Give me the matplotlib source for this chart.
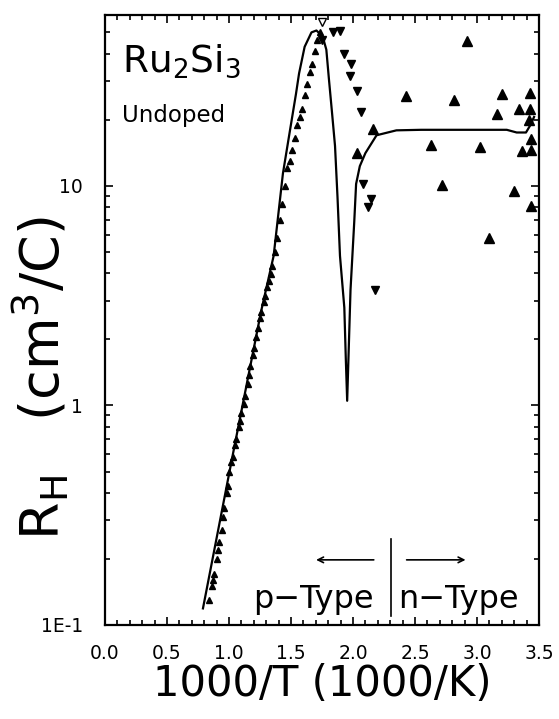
import matplotlib
matplotlib.use('Agg')
import matplotlib.pyplot as plt
from matplotlib.ticker import FixedLocator, LogLocator, NullFormatter, MultipleLocator

# fitted curve
fit_x = [0.79, 1.03, 1.26, 1.36, 1.435, 1.48, 1.54, 1.565, 1.61, 1.665, 1.705, 1.755,
         1.785, 1.805, 1.83, 1.855, 1.875, 1.895, 1.93, 1.942, 1.953,
         1.98, 2.01, 2.025, 2.055, 2.10, 2.19, 2.35, 2.55, 3.24, 3.32, 3.395, 3.435, 3.46]
fit_y = [0.119, 0.594, 2.70, 4.8, 11.4, 16.3, 26.2, 32.5, 43, 50, 51, 48,
         41.7, 31, 21.8, 15.2, 8.9, 4.8, 2.79, 1.63, 1.05,
         3.36, 6.85, 10.2, 12.3, 14.1, 17.0, 17.9, 18.0, 18.0, 17.5, 17.5, 19.1, 20.6]

# dense p-type data
p_x = [0.84, 0.86, 0.87, 0.88, 0.90, 0.91, 0.92, 0.94, 0.95, 0.96, 0.98, 0.99, 1.00, 1.02,
       1.03, 1.05, 1.06, 1.08, 1.09, 1.10, 1.12, 1.13, 1.15, 1.16, 1.17, 1.19, 1.20, 1.22,
       1.23, 1.25, 1.26, 1.28, 1.29, 1.31, 1.32, 1.34, 1.35, 1.37, 1.39, 1.41, 1.43, 1.45,
       1.47, 1.49, 1.51, 1.53, 1.55, 1.57, 1.59, 1.61, 1.63, 1.65, 1.67, 1.69, 1.71, 1.73]
p_y = [0.13, 0.15, 0.16, 0.17, 0.20, 0.22, 0.24, 0.27, 0.31, 0.34, 0.40, 0.43, 0.50, 0.55,
       0.58, 0.66, 0.70, 0.80, 0.85, 0.92, 1.02, 1.10, 1.25, 1.38, 1.52, 1.70, 1.82, 2.05,
       2.25, 2.50, 2.65, 2.95, 3.15, 3.45, 3.70, 3.95, 4.30, 5.0, 5.8, 7.0, 8.3, 10.0,
       12.0, 13.0, 14.5, 16.5, 19.0, 20.5, 22.5, 26.0, 29.0, 33.0, 36.0, 41.0, 46.0, 50.0]

# down triangles past the peak
dn_x = [1.747, 1.836, 1.893, 1.931, 1.986, 1.977, 2.032, 2.063, 2.08, 2.144, 2.12, 2.175]
dn_y = [46, 50, 50.5, 40, 36, 31.8, 27, 21.8, 10.2, 8.7, 8.05, 3.36]
open_x = [1.747]
open_y = [56]

# up triangles, n-type side
up_x = [2.158, 2.034, 2.918, 2.428, 2.816, 3.204, 3.162, 3.34, 3.43, 3.428, 3.42, 3.434,
        3.361, 3.434, 2.626, 3.022, 2.718, 3.30, 3.436, 3.10]
up_y = [18.1, 14.1, 45.9, 25.6, 24.5, 26.2, 21.3, 22.5, 26.5, 22.5, 20, 16.3,
        14.4, 14.6, 15.4, 15.1, 10.1, 9.5, 8.1, 5.8]

x_ticks = [0.0, 0.5, 1.0, 1.5, 2.0, 2.5, 3.0, 3.5]
x_labels = ['0.0', '0.5', '1.0', '1.5', '2.0', '2.5', '3.0', '3.5']
y_ticks = [0.1, 1, 10]
y_labels = ['1E-1', '1', '10']

fig = plt.figure(figsize=(5.59, 7.19), dpi=100)
ax = fig.add_axes([105/559, 1 - 625/719, 434/559, 610/719])

ax.plot(fit_x, fit_y, color='black', lw=1.6)
ax.plot(p_x, p_y, ls='none', marker='^', ms=4.5, color='black')
ax.plot(dn_x, dn_y, ls='none', marker='v', ms=6, color='black')
ax.plot(open_x, open_y, ls='none', marker='v', ms=6, mfc='white', mec='black', clip_on=False)
ax.plot(up_x, up_y, ls='none', marker='^', ms=6.5, color='black')

ax.set_yscale('log')
ax.set_xlim(0, 3.5)
ax.set_ylim(0.1, 60)

ax.xaxis.set_major_locator(FixedLocator(x_ticks))
ax.xaxis.set_minor_locator(MultipleLocator(0.1))
ax.set_xticklabels(x_labels)
ax.yaxis.set_major_locator(FixedLocator(y_ticks))
ax.yaxis.set_minor_locator(LogLocator(base=10, subs=range(2, 10)))
ax.yaxis.set_minor_formatter(NullFormatter())
ax.set_yticklabels(y_labels)

ax.tick_params(which='both', direction='in', top=True, right=True, width=1.2)
ax.tick_params(which='major', length=6)
ax.tick_params(which='minor', length=3.5)
ax.tick_params(axis='x', which='major', labelsize=13.5, pad=14)
ax.tick_params(axis='y', which='major', labelsize=13.5, pad=16)
for sp in ax.spines.values():
    sp.set_linewidth(1.6)

ax.set_xlabel('1000/T (1000/K)', fontsize=30, labelpad=0)
ax.set_ylabel(r'R$_\mathrm{H}$   (cm$^3$/C)', fontsize=39)
ax.yaxis.set_label_coords(-0.08, 0.405)

ax.text(0.04, 0.925, r'Ru$_2$Si$_3$', transform=ax.transAxes, fontsize=27,
        ha='left', va='center')
ax.text(0.04, 0.835, 'Undoped', transform=ax.transAxes, fontsize=16.5,
        ha='left', va='center')

# p-type / n-type divider
ax.plot([2.31, 2.31], [0.11, 0.246], color='black', lw=1.2)
ax.annotate('', xy=(1.68, 0.198), xytext=(2.19, 0.198),
            arrowprops=dict(arrowstyle='->', color='black', lw=1.2))
ax.annotate('', xy=(2.93, 0.198), xytext=(2.41, 0.198),
            arrowprops=dict(arrowstyle='->', color='black', lw=1.2))
ax.text(1.68, 0.131, 'p\u2212Type', fontsize=23, ha='center', va='center')
ax.text(2.85, 0.131, 'n\u2212Type', fontsize=23, ha='center', va='center')

fig.savefig('out.png', dpi=100)
plt.close(fig)
